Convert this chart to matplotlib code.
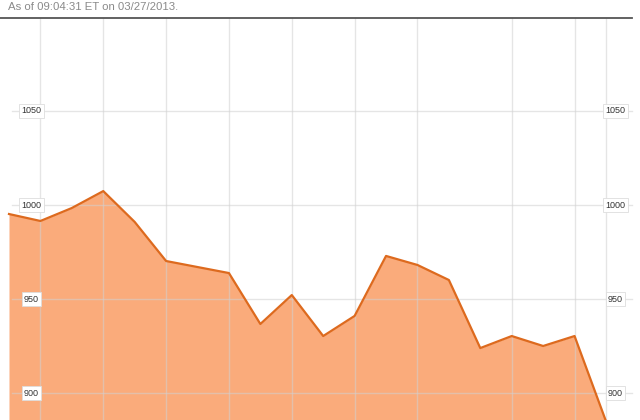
import matplotlib
matplotlib.use("Agg")
import matplotlib.pyplot as plt

# Data
values = [995.2, 991.5, 998.4, 1007.4, 991.0, 970.2, 967.0, 963.8, 936.7, 952.1,
          930.3, 941.0, 972.9, 968.1, 960.1, 923.9, 930.3, 925.0, 930.3, 885.0]
y_ticks = [900, 950, 1000, 1050]
x_grid_idx = [1, 3, 5, 7, 9, 11, 13, 16, 18, 19]
header = "As of 09:04:31 ET on 03/27/2013."

W, H = 640, 420
fig = plt.figure(figsize=(W / 100, H / 100), dpi=100)
fig.patch.set_facecolor("white")

top_px = 18
ax = fig.add_axes([0, 0, 1, (H - top_px) / H])
ax.set_facecolor("white")

x = list(range(len(values)))
step = 31.42
x0 = 9
ax.set_xlim(-x0 / step, (W - x0) / step)
ax.set_ylim(1000 - (H - 205) / 1.88, 1000 + (205 - top_px) / 1.88)

ax.fill_between(x, values, ax.get_ylim()[0] - 50, color="#FAAB7B", zorder=1, linewidth=0)
ax.plot(x, values, color="#DD6A1E", linewidth=1.6, zorder=4, solid_joinstyle="round")

grid_col = (0.82, 0.82, 0.82, 0.55)
for i in x_grid_idx:
    ax.axvline(i, color=grid_col, linewidth=1.0, zorder=2)
for t in y_ticks:
    ax.axhline(t, xmin=12 / W, xmax=632 / W, color=grid_col, linewidth=1.0, zorder=2)

box = dict(boxstyle="square,pad=0.25", facecolor="white", edgecolor="#dddddd", linewidth=0.6)
for t in y_ticks:
    ax.text(31.5 / W, t, str(t), transform=ax.get_yaxis_transform(), ha="center", va="center",
            fontsize=6.5, family="Liberation Sans", color="#333333", bbox=box, zorder=6)
    ax.text(615.5 / W, t, str(t), transform=ax.get_yaxis_transform(), ha="center", va="center",
            fontsize=6.5, family="Liberation Sans", color="#333333", bbox=box, zorder=6)

for s in ax.spines.values():
    s.set_visible(False)
ax.set_xticks([])
ax.set_yticks([])

# Top rule and header text
fig.add_artist(plt.Line2D([0, 632 / W], [1 - top_px / H, 1 - top_px / H],
                          color="#555555", linewidth=1.3, transform=fig.transFigure))
fig.text(8 / W, 1 - 6.5 / H, header, ha="left", va="center", fontsize=8.2,
         family="Liberation Sans", color="#8a8a8a")

fig.savefig("out.png", dpi=100, facecolor="white")
